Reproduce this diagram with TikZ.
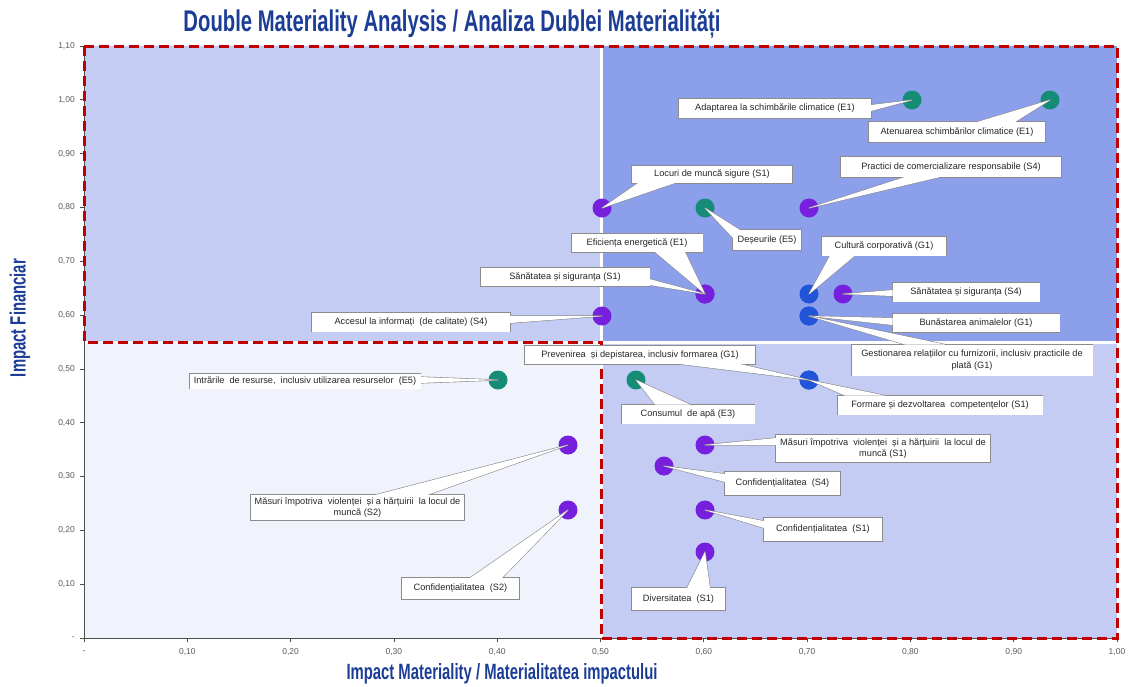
\documentclass[tikz,border=0pt]{standalone}
\usepackage{fontspec}
\usepackage{graphicx}
\setmainfont{Liberation Sans}
\usetikzlibrary{calc}
\definecolor{qTL}{HTML}{C4CCF4}
\definecolor{qTR}{HTML}{8C9FEB}
\definecolor{qBL}{HTML}{F1F3FC}
\definecolor{qBR}{HTML}{C4CCF4}
\definecolor{redd}{HTML}{C00000}
\definecolor{navy}{HTML}{1C3D96}
\definecolor{cteal}{HTML}{158C75}
\definecolor{cpurp}{HTML}{7620DE}
\definecolor{cblue}{HTML}{2254DA}
\definecolor{tickgray}{HTML}{595959}
\definecolor{boxgray}{HTML}{8C8C8C}
\tikzset{
  dotnode/.style={circle, minimum size=19pt, inner sep=0pt},
  lbl/.style={font=\fontsize{9.2}{11.5}\selectfont, inner sep=1pt, align=center, text=black!85},
  boxline/.style={draw=boxgray, line width=1.2pt},
  wedgeline/.style={draw=boxgray, line width=1.2pt, line join=round},
  yticklbl/.style={font=\fontsize{8.5}{9}\selectfont, text=tickgray, anchor=east, inner sep=0pt},
  xticklbl/.style={font=\fontsize{8.5}{9}\selectfont, text=tickgray, anchor=center, inner sep=0pt},
  reddash/.style={draw=redd, line width=3pt, dash pattern=on 10pt off 5pt},
  axisline/.style={draw=black!70, line width=0.8pt},
}
% #1 name, #2 box centre, #3 dot, #4 #5 wedge base points, #6 size options, #7 text
\newcommand{\mycallout}[7]{%
  \coordinate (#1c) at #2;
  \draw[wedgeline] #4 -- (#3.center) -- #5;
  \node[lbl,boxline,#6] (#1o) at (#1c) {#7};
  \fill[white] #4 -- (#3.center) -- #5 -- cycle;
  \node[lbl,fill=white,#6] (#1) at (#1c) {#7};
}
\begin{document}
\begin{tikzpicture}[x=1pt,y=-1pt]
\useasboundingbox (0,0) rectangle (1131,686);
% quadrants
\fill[qTL] (84,46) rectangle (600,341);
\fill[qTR] (602.5,46) rectangle (1117,340.5);
\fill[qBL] (84,343) rectangle (600,638);
\fill[qBR] (602.5,343.5) rectangle (1117,638);
% axes
\draw[axisline] (84,46) -- (84,638) -- (1117,638);
\foreach \i/\t in {0/-,1/{0,10},2/{0,20},3/{0,30},4/{0,40},5/{0,50},6/{0,60},7/{0,70},8/{0,80},9/{0,90},10/{1,00},11/{1,10}}{
  \pgfmathsetmacro{\yy}{638-53.82*\i}
  \draw[axisline] (80,\yy) -- (84,\yy);
  \node[yticklbl] (yt\i) at (75,\yy) {\t};
}
\foreach \i/\t in {0/-,1/{0,10},2/{0,20},3/{0,30},4/{0,40},5/{0,50},6/{0,60},7/{0,70},8/{0,80},9/{0,90},10/{1,00}}{
  \pgfmathsetmacro{\xx}{84+103.3*\i}
  \draw[axisline] (\xx,638) -- (\xx,642);
  \node[xticklbl] (xt\i) at (\xx,652) {\t};
}
% red dashed outline
\draw[reddash] (84,46) -- (1117,46) -- (1117,638) -- (601,638) -- (601,342) -- (84,342) -- cycle;
% titles
\node[anchor=base, inner sep=0pt, text=navy] (title) at (452,31) {\resizebox{537pt}{22pt}{\bfseries Double Materiality Analysis / Analiza Dublei Materialități}};
\node[anchor=base, inner sep=0pt, text=navy] (xlabel) at (502,679) {\resizebox{311pt}{16pt}{\bfseries Impact Materiality / Materialitatea impactului}};
\node[rotate=90, inner sep=0pt, text=navy] (ylabel) at (20,318) {\resizebox{118pt}{16pt}{\bfseries Impact Financiar}};
% dots
\node[dotnode, fill=cteal] (d1) at (912,100) {};
\node[dotnode, fill=cteal] (d2) at (1050,100) {};
\node[dotnode, fill=cpurp] (d3) at (602,208) {};
\node[dotnode, fill=cpurp] (d4) at (809,208) {};
\node[dotnode, fill=cteal] (d5) at (705,208) {};
\node[dotnode, fill=cpurp] (d6) at (705,294) {};
\node[dotnode, fill=cblue] (d7) at (809,294) {};
\node[dotnode, fill=cpurp] (d8) at (705,294) {};
\node[dotnode, fill=cpurp] (d9) at (843,294) {};
\node[dotnode, fill=cpurp] (d10) at (602,316) {};
\node[dotnode, fill=cblue] (d11) at (809,316) {};
\node[dotnode, fill=cblue] (d12) at (809,316) {};
\node[dotnode, fill=cblue] (d13) at (809,380) {};
\node[dotnode, fill=cteal] (d14) at (498,380) {};
\node[dotnode, fill=cblue] (d15) at (809,380) {};
\node[dotnode, fill=cteal] (d16) at (636,380) {};
\node[dotnode, fill=cpurp] (d17) at (705,445) {};
\node[dotnode, fill=cpurp] (d18) at (664,466) {};
\node[dotnode, fill=cpurp] (d19) at (568,445) {};
\node[dotnode, fill=cpurp] (d20) at (705,510) {};
\node[dotnode, fill=cpurp] (d21) at (568,510) {};
\node[dotnode, fill=cpurp] (d22) at (705,552) {};
% callouts
\mycallout{l1}{(775,108.5)}{d1}{(871,105)}{(871,111)}{minimum width=192pt, minimum height=19pt}{Adaptarea la schimbările climatice (E1)}
\mycallout{l2}{(957,132)}{d2}{(977,122)}{(1015,122)}{minimum width=176pt, minimum height=20pt}{Atenuarea schimbărilor climatice (E1)}
\mycallout{l3}{(712,174.5)}{d3}{(638,183)}{(675,183)}{minimum width=160pt, minimum height=17pt}{Locuri de muncă sigure (S1)}
\mycallout{l4}{(951,167)}{d4}{(905,177)}{(940,177)}{minimum width=220pt, minimum height=20pt}{Practici de comercializare responsabile (S4)}
\mycallout{l5}{(767,240)}{d5}{(740,230)}{(733,238)}{minimum width=68pt, minimum height=20pt}{Deșeurile (E5)}
\mycallout{l6}{(637,243)}{d6}{(655,252)}{(685,252)}{minimum width=131pt, minimum height=18pt}{Eficiența energetică (E1)}
\mycallout{l7}{(884,246)}{d7}{(830,255.5)}{(855,255.5)}{minimum width=124pt, minimum height=19pt}{Cultură corporativă (G1)}
\mycallout{l8}{(565,277)}{d8}{(649.5,279)}{(649.5,285)}{minimum width=169pt, minimum height=18pt}{Sănătatea și siguranța (S1)}
\mycallout{l9}{(966,292)}{d9}{(892.5,290)}{(892.5,296)}{minimum width=147pt, minimum height=19pt}{Sănătatea și siguranța (S4)}
\mycallout{l10}{(411,322)}{d10}{(510,316)}{(510,323)}{minimum width=198pt, minimum height=19pt}{Accesul la informați\ \ (de calitate) (S4)}
\mycallout{l11}{(976,323)}{d11}{(892.5,318)}{(892.5,325)}{minimum width=167pt, minimum height=18pt}{Bunăstarea animalelor (G1)}
\mycallout{l12}{(972,360)}{d12}{(905,344.5)}{(945,344.5)}{minimum width=241pt, minimum height=31pt}{Gestionarea relațiilor cu furnizorii, inclusiv practicile de\\plată (G1)}
\mycallout{l13}{(640,355)}{d13}{(680,364)}{(740,364)}{minimum width=230pt, minimum height=18pt}{Prevenirea\ \ și depistarea, inclusiv formarea (G1)}
\mycallout{l14}{(305,381)}{d14}{(420.5,377)}{(420.5,383)}{minimum width=231pt, minimum height=15pt}{Intrările\ \ de resurse,\ \ inclusiv utilizarea resurselor\ \ (E5)}
\mycallout{l15}{(940,405)}{d15}{(845,395.5)}{(885,395.5)}{minimum width=205pt, minimum height=19pt}{Formare și dezvoltarea\ \ competențelor (S1)}
\mycallout{l16}{(688,414)}{d16}{(655,404.5)}{(690,404.5)}{minimum width=133pt, minimum height=19pt}{Consumul\ \ de apă (E3)}
\mycallout{l17}{(883,448.5)}{d17}{(776,438)}{(776,445)}{minimum width=214pt, minimum height=27pt}{Măsuri împotriva\ \ violenței\ \ și a hărțuirii\ \ la locul de\\muncă (S1)}
\mycallout{l18}{(782.5,483.5)}{d18}{(725,474)}{(725,482)}{minimum width=115pt, minimum height=23pt}{Confidențialitatea\ \ (S4)}
\mycallout{l19}{(357.5,507.5)}{d19}{(375,495)}{(427,495)}{minimum width=213pt, minimum height=25pt}{Măsuri împotriva\ \ violenței\ \ și a hărțuirii\ \ la locul de\\muncă (S2)}
\mycallout{l20}{(823,529.5)}{d20}{(764,521)}{(764,528)}{minimum width=118pt, minimum height=23pt}{Confidențialitatea\ \ (S1)}
\mycallout{l21}{(460.5,588.5)}{d21}{(470,578)}{(502,578)}{minimum width=117pt, minimum height=21pt}{Confidențialitatea\ \ (S2)}
\mycallout{l22}{(678.5,599)}{d22}{(687,588)}{(710,588)}{minimum width=93pt, minimum height=22pt}{Diversitatea\ \ (S1)}
\end{tikzpicture}
\end{document}
